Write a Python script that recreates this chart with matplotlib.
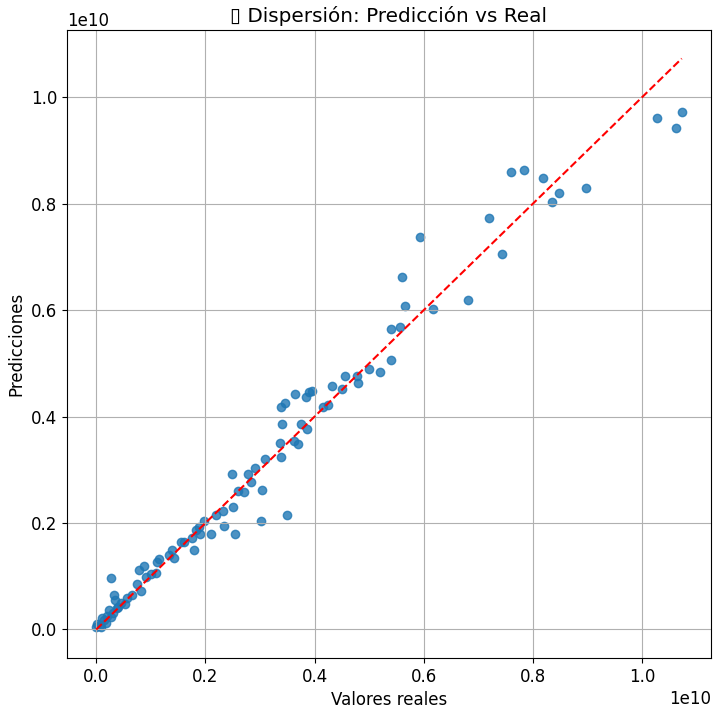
import matplotlib
matplotlib.use("Agg")
import matplotlib.pyplot as plt
import numpy as np

plt.rcParams["font.size"] = 12

# Valores reales y predicciones del modelo (en unidades de 1e10)
valores_reales = np.array([
    1.073, 1.027, 1.062, 0.897, 0.848, 0.835, 0.819, 0.784, 0.760, 0.720,
    0.744, 0.681, 0.593, 0.560, 0.566, 0.617, 0.557, 0.540, 0.540, 0.520,
    0.500, 0.480, 0.478, 0.456, 0.451, 0.432, 0.425, 0.416, 0.396, 0.390,
    0.385, 0.364, 0.346, 0.339, 0.341, 0.375, 0.386, 0.337, 0.363, 0.370,
    0.310, 0.339, 0.291, 0.278, 0.249, 0.284, 0.271, 0.260, 0.304, 0.350,
    0.302, 0.255, 0.251, 0.233, 0.220, 0.198, 0.234, 0.211, 0.189, 0.183,
    0.190, 0.176, 0.161, 0.179, 0.139, 0.134, 0.115, 0.112, 0.088, 0.079,
    0.110, 0.101, 0.092, 0.082, 0.066, 0.057, 0.046, 0.033, 0.027, 0.035,
    0.040, 0.038, 0.024, 0.027, 0.020, 0.015, 0.011, 0.009, 0.002, 0.000,
    0.143, 0.156, 0.075, 0.030, 0.018, 0.052, 0.006,
])
predicciones = np.array([
    0.972, 0.961, 0.942, 0.829, 0.820, 0.803, 0.848, 0.863, 0.859, 0.774,
    0.705, 0.620, 0.737, 0.662, 0.607, 0.603, 0.568, 0.564, 0.506, 0.483,
    0.489, 0.464, 0.476, 0.476, 0.451, 0.457, 0.421, 0.419, 0.449, 0.447,
    0.436, 0.442, 0.425, 0.419, 0.387, 0.387, 0.376, 0.350, 0.355, 0.348,
    0.321, 0.325, 0.303, 0.293, 0.293, 0.278, 0.258, 0.261, 0.263, 0.216,
    0.203, 0.180, 0.231, 0.222, 0.216, 0.203, 0.194, 0.179, 0.192, 0.186,
    0.179, 0.171, 0.165, 0.150, 0.150, 0.139, 0.133, 0.126, 0.120, 0.111,
    0.107, 0.105, 0.098, 0.073, 0.064, 0.060, 0.049, 0.064, 0.096, 0.055,
    0.043, 0.041, 0.036, 0.023, 0.026, 0.017, 0.021, 0.004, 0.011, 0.004,
    0.135, 0.164, 0.086, 0.030, 0.012, 0.047, 0.008,
])
escala = 1e10
y_test = valores_reales * escala
y_pred = predicciones * escala

fig = plt.figure(figsize=(7.14, 7.12), dpi=100)
fig.subplots_adjust(left=67 / 714, right=711 / 714, top=1 - 30 / 712, bottom=1 - 658 / 712)
ax = fig.gca()

ax.scatter(y_test, y_pred, alpha=0.8)
ax.plot([y_test.min(), y_test.max()], [y_test.min(), y_test.max()], "r--")
ax.set_xlabel("Valores reales")
ax.set_ylabel("Predicciones")
# el icono del título se dibuja como un recuadro vacío
ax.set_title("\u25af Dispersión: Predicción vs Real")
ax.grid(True)

fig.savefig("out.png", dpi=100)
